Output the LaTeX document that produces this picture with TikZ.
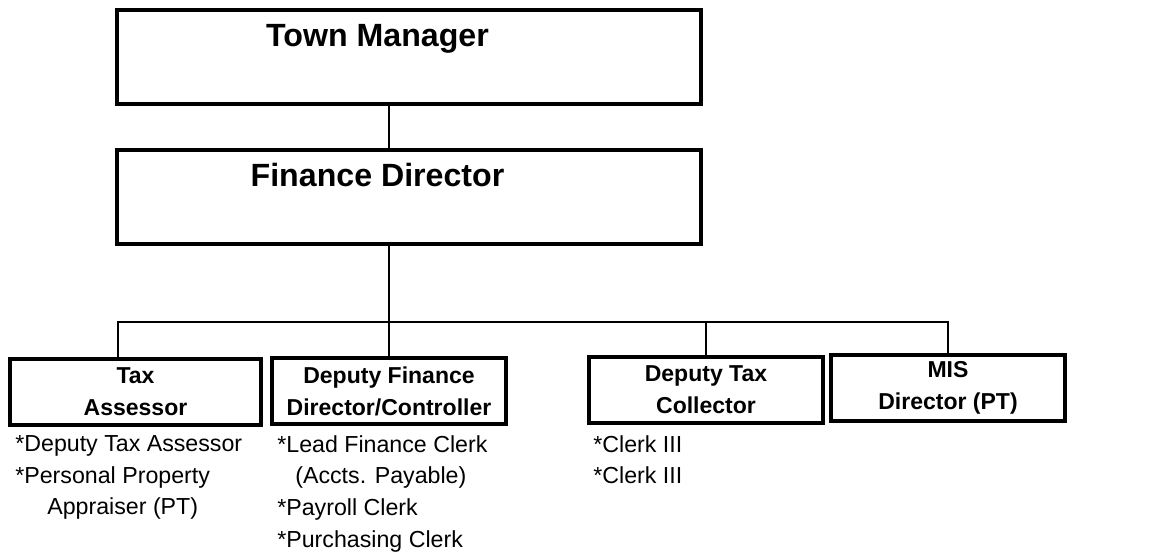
\documentclass[tikz,border=0pt]{standalone}
\usepackage{fontspec}
\setsansfont{Liberation Sans}
\usetikzlibrary{positioning}

\begin{document}
\begin{tikzpicture}[
  x=0.02cm, y=-0.02cm,
  font=\sffamily,
  head/.style={rectangle, draw, line width=2.4pt, inner sep=0pt,
               minimum width=11.68cm, text height=0.73cm, text depth=1.15cm,
               font=\sffamily\bfseries\fontsize{18.3}{22}\selectfont},
  unit/.style={rectangle, draw, line width=2.4pt, inner sep=0pt,
               minimum width=4.68cm, minimum height=1.32cm, align=center,
               font=\sffamily\bfseries\fontsize{13.1}{18.1}\selectfont},
  staff/.style={anchor=north west, inner sep=0pt, align=left,
                font=\sffamily\fontsize{13.2}{18.1}\selectfont},
  link/.style={line width=1pt}
]
  \useasboundingbox (0,0) rectangle (1153,555);

  \node[head] (tm) at (409,57)  {Town Manager\hspace*{1.26cm}};
  \node[head] (fd) at (409,197) {Finance Director\hspace*{1.26cm}};

  \node[unit, minimum width=5.02cm] (ta) at (135.5,392) {Tax\\Assessor};
  \node[unit] (dfc) at (389,391) {Deputy Finance\\Director/Controller};
  \node[unit] (dtc) at (706,390) {Deputy Tax\\Collector};
  \node[unit] (mis) at (948,388) {MIS\\Director (PT)};

  \node[staff] (tal) at (15,435)  {*Deputy Tax Assessor\\{}*Personal Property\\\hspace*{0.64cm}Appraiser (PT)};
  \node[staff] (dfl) at (277,435) {*Lead Finance Clerk\\\hspace*{0.36cm}(Accts. Payable)\\{}*Payroll Clerk\\{}*Purchasing Clerk};
  \node[staff] (dtl) at (593,435) {*Clerk III\\{}*Clerk III};

  \coordinate (bus) at (0,322);
  \draw[link] (tm.south -| dfc) -- (fd.north -| dfc);
  \draw[link] (fd.south -| dfc) -- (dfc.north);
  \draw[link] ([xshift=-0.35cm]ta.north) -- ([xshift=-0.35cm]ta.north |- bus) -- (mis.north |- bus) -- (mis.north);
  \draw[link] (dtc.north) -- (dtc.north |- bus);
\end{tikzpicture}
\end{document}
